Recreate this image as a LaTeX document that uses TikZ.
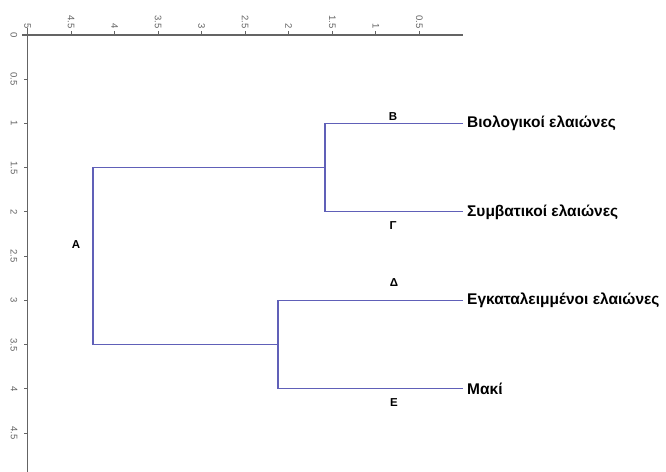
\documentclass[tikz,border=0pt]{standalone}
\usepackage{fontspec}
\setmainfont{Liberation Sans}
\usepackage{tikz}
\usetikzlibrary{positioning}
\definecolor{dendro}{RGB}{96,96,184}
\definecolor{axisgray}{RGB}{100,100,100}
\tikzset{
  axisline/.style = {draw=axisgray, line width=1.1pt},
  ticklab/.style  = {font=\fontsize{9.5}{11}\selectfont, text=axisgray,
    rotate=-90, inner sep=0pt},
  branch/.style   = {draw=dendro, line width=1.1pt},
  leaf/.style     = {anchor=west, inner sep=4pt,
    font=\fontsize{15.5}{18}\selectfont\bfseries},% ονομα ομαδας
  grp/.style      = {inner sep=0pt, font=\fontsize{11.5}{13}\selectfont\bfseries}% γραμμα κλαδου
}

\begin{document}
\begin{tikzpicture}[x=-87.1pt, y=-88.5pt]
\useasboundingbox (5.316,-0.395) rectangle (-2.331,4.938);

% axes
\draw[axisline] (5.06,0) -- (0,0);
\draw[axisline] (5,-0.08) -- (5,4.94);
\foreach \v in {5,4.5,4,3.5,3,2.5,2,1.5,1,0.5} {
  \draw[axisline] (\v,0) -- ++(0,4pt);
  \path (\v,0) ++(0,6pt) node[ticklab, anchor=east] {\v};
}
\foreach \v in {0,0.5,1,1.5,2,2.5,3,3.5,4,4.5} {
  \draw[axisline] (5,\v) -- ++(-4pt,0);
  \path (5,\v) ++(-10pt,0) node[ticklab, anchor=north] {\v};
}

% leaves
\node[leaf] (bio) at (0,1) {Βιολογικοί ελαιώνες};
\node[leaf] (sym) at (0,2) {Συμβατικοί ελαιώνες};
\node[leaf] (egk) at (0,3) {Εγκαταλειμμένοι ελαιώνες};
\node[leaf] (mak) at (0,4) {Μακί};

% merge points
\coordinate (mBG) at (1.584,1.5);
\coordinate (mDE) at (2.124,3.5);
\coordinate (mA)  at (4.248,2.5);

\draw[branch] (bio.west) -| (mBG) |- (sym.west);
\draw[branch] (egk.west) -| (mDE) |- (mak.west);
\draw[branch] (mBG) -| (mA) |- (mDE);

% branch letters
\node[grp] (lB) at (0.804,0.927) {Β};
\node[grp] (lG) at (0.804,2.158) {Γ};
\node[grp] (lD) at (0.792,2.802) {Δ};
\node[grp] (lE) at (0.792,4.158) {Ε};
\node[grp] (lA) at (4.443,2.373) {Α};
\end{tikzpicture}
\end{document}
